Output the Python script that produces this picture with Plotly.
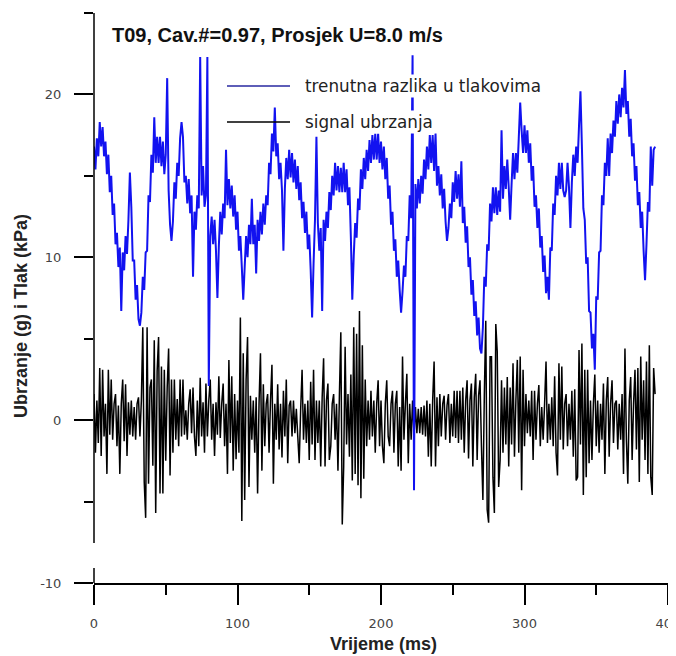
import numpy as np
import plotly.graph_objects as go

# ---------------- data ----------------
title_text = "T09, Cav.#=0.97, Prosjek U=8.0 m/s"
x_title = "Vrijeme (ms)"
y_title = "Ubrzanje (g) i Tlak (kPa)"
pressure_name = "trenutna razlika u tlakovima"
accel_name = "signal ubrzanja"

x_tick_vals = [0, 100, 200, 300, 400]
x_tick_text = ["0", "100", "200", "300", "400"]
y_tick_vals = [-10, 0, 10, 20]
y_tick_text = ["-10", "0", "10", "20"]

pressure_step_ms = 1   # sampling step of the pressure trace as read
accel_step_ms = 1      # sampling step of the acceleration trace as read

# pressure difference (kPa), t = 0, 1, 2, ... ms
pressure = [
    16.8, 15.4, 17.3, 16.2, 18.3, 16.8, 18.0, 16.2, 17.1, 15.1,
    16.3, 14.0, 15.0, 12.6, 13.3, 10.8, 11.5, 9.4, 10.6, 6.7,
    10.3, 9.2, 11.3, 10.2, 12.3, 15.2, 13.1, 9.8, 9.8, 7.4,
    8.3, 6.2, 5.8, 6.6, 8.8, 8.0, 10.3, 10.4, 13.8, 13.4,
    16.3, 15.2, 18.6, 15.8, 17.4, 15.8, 17.4, 15.6, 17.1, 15.1,
    16.3, 21.0, 14.1, 12.0, 11.0, 12.2, 14.6, 13.6, 15.8, 15.0,
    17.3, 18.3, 17.4, 14.6, 15.0, 13.3, 14.8, 12.7, 13.8, 8.8,
    12.8, 11.7, 13.8, 13.0, 22.3, 13.8, 15.6, 13.1, 13.8, 22.3,
    2.1, 11.3, 12.5, 10.8, 12.3, 10.4, 7.5, 10.7, 12.8, 11.4,
    13.3, 12.4, 16.6, 13.2, 14.8, 13.0, 14.4, 12.5, 13.8, 11.7,
    12.8, 10.4, 11.3, 9.4, 7.4, 9.4, 11.3, 10.0, 12.0, 10.8,
    13.6, 10.8, 12.0, 9.0, 12.3, 11.0, 12.8, 11.4, 13.3, 12.0,
    13.8, 13.2, 15.8, 15.1, 17.6, 16.5, 19.2, 16.2, 17.0, 14.8,
    15.8, 14.1, 10.4, 14.2, 16.1, 14.8, 16.6, 14.9, 16.4, 14.6,
    16.0, 14.2, 15.6, 13.5, 14.6, 12.4, 13.4, 11.5, 12.8, 10.5,
    11.4, 9.2, 6.3, 9.6, 12.3, 17.4, 12.1, 10.4, 11.8, 6.7,
    12.3, 11.0, 12.8, 11.8, 14.0, 12.9, 15.0, 13.8, 15.8, 14.1,
    15.6, 14.0, 15.5, 14.0, 15.8, 14.0, 15.4, 13.2, 14.3, 11.2,
    7.4, 10.1, 12.1, 11.2, 13.6, 12.9, 15.4, 14.2, 16.1, 14.8,
    16.6, 15.3, 17.2, 15.8, 17.5, 16.0, 17.6, 16.0, 17.6, 15.8,
    17.1, 15.4, 16.8, 14.8, 16.1, 13.6, 14.4, 12.0, 12.8, 10.4,
    11.1, 8.8, 9.8, 8.0, 6.6, 7.9, 9.5, 8.8, 11.3, 11.0,
    13.8, 12.4, 22.4, -4.3, 14.5, 13.0, 14.8, 13.3, 15.0, 13.9,
    16.0, 14.8, 16.8, 15.4, 17.5, 15.8, 17.5, 15.3, 17.6, 14.4,
    15.6, 13.8, 15.1, 13.0, 14.2, 12.2, 11.0, 11.8, 13.3, 12.4,
    14.6, 13.4, 15.3, 13.6, 15.1, 13.1, 15.9, 12.1, 13.1, 10.9,
    11.9, 9.4, 10.0, 7.7, 8.6, 6.4, 7.3, 5.2, 6.3, 4.4,
    4.1, 5.7, 8.8, 8.2, 10.8, 10.4, 13.3, 12.2, 14.3, 12.7,
    14.3, 12.6, 14.1, 12.8, 17.8, 13.6, 15.6, 14.2, 16.0, 14.3,
    12.3, 14.5, 16.4, 14.8, 16.4, 15.2, 17.3, 19.5, 17.8, 16.4,
    18.1, 16.4, 17.8, 15.8, 17.0, 14.7, 15.6, 13.1, 13.8, 11.8,
    13.0, 10.6, 11.3, 9.1, 10.1, 7.8, 8.8, 7.4, 10.6, 10.4,
    13.3, 12.6, 15.0, 13.8, 15.8, 14.2, 15.8, 14.1, 13.7, 14.1,
    15.8, 14.3, 11.8, 14.6, 16.3, 15.0, 16.8, 15.8, 18.1, 20.2,
    16.8, 13.0, 12.3, 9.6, 10.0, 6.7, 6.6, 4.4, 5.3, 3.1,
    7.6, 7.4, 10.3, 10.4, 13.8, 13.2, 15.8, 15.0, 17.3, 15.0,
    17.6, 16.4, 18.4, 17.4, 19.6, 18.2, 20.0, 18.6, 20.4, 19.2,
    21.5, 18.8, 19.6, 17.4, 18.5, 16.2, 17.0, 14.7, 15.6, 13.2,
    14.0, 11.8, 12.8, 10.4, 8.6, 10.8, 13.4, 12.8, 16.8, 14.4,
    16.6, 16.8,
]

# acceleration signal (g), t = 0, 1, 2, ... ms
accel = [
    1.6, -2.0, 1.2, -1.4, 3.2, -2.2, 3.1, -1.0, 1.0, -3.3,
    3.1, -0.9, 2.5, -1.2, 1.0, 1.6, -1.6, 0.9, -3.3, 1.0,
    2.5, -1.3, 2.2, -2.2, 1.1, -0.9, 1.2, -1.0, 0.8, -1.2,
    1.0, 1.4, -1.0, 1.2, 5.7, -3.8, -6.0, 5.7, -3.9, 2.0,
    2.5, -2.8, 4.9, -5.7, 3.0, 5.1, -4.5, 3.3, -4.5, 3.1,
    -2.5, 2.0, 4.4, -3.4, 2.5, -2.0, 2.5, -1.2, 1.3, -1.6,
    2.5, -1.0, 2.5, -0.9, 0.6, -1.2, 1.0, 1.9, -0.8, 2.0,
    -1.0, -2.2, 1.2, -1.6, 2.6, -1.0, 1.1, -2.0, 2.25, -1.0,
    1.2, 2.5, -1.2, 1.0, -2.2, 1.1, -0.9, 2.7, -1.1, 1.0,
    2.25, -1.6, 1.0, -3.3, 3.7, -1.4, 2.7, -3.1, 1.6, -2.4,
    1.2, -2.0, 6.3, -6.2, 4.1, -4.9, 2.5, 5.1, -4.1, 1.5,
    -1.2, 1.2, -2.0, 1.4, -4.5, 1.0, 4.1, -3.1, 2.2, -1.6,
    1.0, 1.6, -2.0, 1.2, 3.4, -3.9, 1.0, -1.2, 2.2, -1.8,
    1.0, -2.3, 1.8, -1.0, 2.5, -2.65, 0.9, 1.2, -1.0, 1.2,
    -0.8, 0.7, -1.0, -2.65, 0.6, 3.1, -1.2, 1.0, -1.4, 1.2,
    -2.45, 2.35, -1.5, 3.1, -2.45, 1.2, -1.4, 1.2, -2.85, 1.4,
    3.8, -2.85, 1.2, 2.25, -2.45, -1.6, 1.0, 1.6, -1.2, 1.0,
    -3.1, 1.5, 5.4, -6.4, -2.85, 4.5, -1.5, 1.6, -2.25, 2.8,
    -3.7, 5.7, -3.3, 5.3, -4.0, 6.7, -4.8, 4.6, -3.6, 2.5,
    -1.6, 1.2, -1.2, 1.8, -1.0, 1.2, -2.0, 1.0, 2.45, -1.6,
    1.2, -1.6, -2.65, 1.0, 2.45, -1.0, -1.6, 1.0, 1.8, -2.0,
    1.0, 1.8, -2.85, 0.8, -3.1, 3.9, -1.2, 1.0, 2.85, -2.65,
    1.0, -1.2, 1.2, -0.9, 0.8, -0.8, 0.7, -0.8, 0.8, -0.9,
    0.9, -1.0, 1.2, -2.25, 1.0, -2.85, 1.2, 3.6, -2.85, 1.4,
    -1.6, 1.6, -1.0, 1.0, 1.5, -1.2, 0.9, 1.6, -1.4, 1.0,
    -1.0, 1.8, -1.1, 1.8, -1.4, 1.8, -1.2, 2.0, -2.0, 1.2,
    2.45, -2.35, 1.2, 2.25, -2.85, 1.4, 2.85, -2.45, 1.5, 2.45,
    -1.6, -4.9, 1.5, 6.1, -5.5, -6.3, 3.9, 3.9, -3.5, -5.7,
    5.9, 4.2, -4.1, -2.45, 2.45, -2.0, 2.0, -1.5, 2.65, -2.85,
    2.0, -1.5, 3.5, -2.25, 1.2, 3.7, -2.0, 3.9, -4.3, 3.1,
    -1.6, 1.6, -0.8, 1.2, -1.0, 1.8, -2.45, 1.8, -1.2, 1.0,
    2.15, -1.6, 0.8, -1.2, 1.0, 3.6, -1.4, 1.0, -1.2, 1.4,
    -1.6, 2.7, -2.0, -3.4, 3.5, -1.2, 3.3, -1.8, 1.0, 1.6,
    -1.6, 1.0, -1.2, 1.8, -2.25, 1.9, -3.7, -3.5, 4.3, -1.5,
    4.7, -4.6, 3.1, -3.5, 3.1, -2.65, 1.2, -2.45, 1.0, 2.8,
    -1.6, 1.2, -2.0, 1.0, -1.2, 2.25, -3.3, 1.2, 2.65, -2.25,
    1.0, 2.45, -1.4, 1.0, 1.2, -1.8, 1.0, -1.2, 1.6, -3.3,
    4.4, -1.2, -3.9, 1.2, 2.65, -2.45, 1.0, 3.1, -1.8, 3.2,
    -3.8, 3.9, -1.2, 2.45, -2.45, 3.6, -3.3, 4.6, -3.5, -4.6,
    3.2, 1.6,
]

t_pressure = np.arange(len(pressure)) * pressure_step_ms
t_accel = np.arange(len(accel)) * accel_step_ms

# ---------------- figure ----------------
# page body has an 8px margin, so the figure is drawn 8px smaller
W, H = 668, 648
ML, MR, MT, MB = 86, 8, 5, 73

# plot area in reference-picture pixels
REF_L, REF_B, REF_W, REF_H = 94, 583, 574, 570

def px_x(px):
    return (px - REF_L) / REF_W

def px_y(py):
    return (REF_B - py) / REF_H

BLUE = "rgb(18,18,240)"
LEG_BLUE = "rgb(40,40,160)"

fig = go.Figure()
fig.add_trace(go.Scatter(x=t_accel, y=accel, mode="lines", name=accel_name,
                         line=dict(color="black", width=1.5, simplify=False),
                         showlegend=False))
fig.add_trace(go.Scatter(x=t_pressure, y=pressure, mode="lines", name=pressure_name,
                         line=dict(color=BLUE, width=2.0, simplify=False),
                         showlegend=False))

tick_font = dict(family="DejaVu Sans, Verdana, sans-serif", size=13, color="#444")

fig.update_xaxes(range=[0, 400], tickvals=x_tick_vals, ticktext=x_tick_text,
                 showline=True, linecolor="black", linewidth=1.5,
                 ticks="outside", ticklen=20, tickwidth=1.5, tickcolor="black",
                 minor=dict(dtick=50, ticks="outside", ticklen=10, tickwidth=1.5,
                            tickcolor="black", showgrid=False),
                 showgrid=False, zeroline=False, tickfont=tick_font,
                 ticklabelstandoff=8, ticklabeloverflow="allow", automargin=False)
fig.update_yaxes(range=[-10, 25], tickvals=y_tick_vals, ticktext=y_tick_text,
                 showline=False,
                 ticks="outside", ticklen=19, tickwidth=1.5, tickcolor="black",
                 minor=dict(tickvals=[-5, 5, 15, 25], ticks="outside", ticklen=9,
                            tickwidth=1.5, tickcolor="black", showgrid=False),
                 showgrid=False, zeroline=False, tickfont=tick_font,
                 ticklabelstandoff=10, automargin=False)

shapes = [
    # broken y axis: main part and short stub near the x axis
    dict(type="line", xref="paper", yref="paper", x0=0, x1=0,
         y0=px_y(543), y1=1.0, line=dict(color="black", width=1.5)),
    dict(type="line", xref="paper", yref="paper", x0=0, x1=0,
         y0=px_y(568), y1=0.0, line=dict(color="black", width=1.5)),
    # legend sample lines
    dict(type="line", xref="paper", yref="paper", x0=px_x(227), x1=px_x(290),
         y0=px_y(86), y1=px_y(86), line=dict(color=LEG_BLUE, width=1.6), layer="above"),
    dict(type="line", xref="paper", yref="paper", x0=px_x(227), x1=px_x(290),
         y0=px_y(122), y1=px_y(122), line=dict(color="black", width=1.6), layer="above"),
]

legend_font = dict(family="DejaVu Sans, Verdana, sans-serif", size=16.8, color="#222")
title_font = dict(family="Liberation Sans, Arial, sans-serif", size=20, color="#111",
                  weight="bold")
axis_font = dict(family="Liberation Sans, Arial, sans-serif", size=18, color="#222",
                 weight="bold")

annotations = [
    dict(text=title_text, xref="paper", yref="paper", x=px_x(110), y=px_y(35),
         xanchor="left", yanchor="middle", showarrow=False, font=title_font),
    dict(text=pressure_name, xref="paper", yref="paper", x=px_x(303), y=px_y(86),
         xanchor="left", yanchor="middle", showarrow=False, font=legend_font,
         bgcolor="white"),
    dict(text=accel_name, xref="paper", yref="paper", x=px_x(303), y=px_y(122),
         xanchor="left", yanchor="middle", showarrow=False, font=legend_font,
         bgcolor="white"),
    dict(text=x_title, xref="paper", yref="paper", x=px_x(383), y=px_y(644),
         xanchor="center", yanchor="middle", showarrow=False, font=axis_font),
    dict(text=y_title, xref="paper", yref="paper", x=px_x(21), y=px_y(316),
         xanchor="center", yanchor="middle", showarrow=False, font=axis_font,
         textangle=-90),
]

fig.update_layout(width=W, height=H, autosize=False,
                  margin=dict(l=ML, r=MR, t=MT, b=MB, pad=0, autoexpand=False),
                  paper_bgcolor="white", plot_bgcolor="white",
                  shapes=shapes, annotations=annotations, showlegend=False)

fig.write_html("out.html")
